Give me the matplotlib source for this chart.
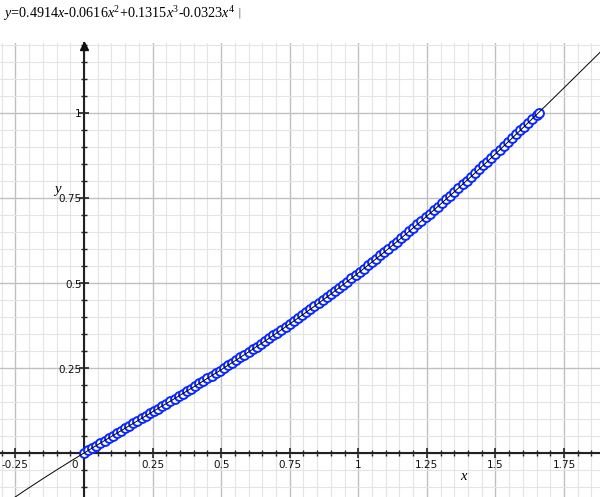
import matplotlib
matplotlib.use("Agg")
import matplotlib.pyplot as plt
import numpy as np
from matplotlib.ticker import MultipleLocator

# ---- data ----
coeffs = [0.4914, -0.0616, 0.1315, -0.0323]  # x, x^2, x^3, x^4 (from the title)
x_pts = [0.000, 0.015, 0.030, 0.045, 0.060, 0.075, 0.090, 0.105, 0.120, 0.135,
         0.150, 0.165, 0.180, 0.195, 0.210, 0.225, 0.240, 0.255, 0.270, 0.285,
         0.300, 0.315, 0.330, 0.345, 0.360, 0.375, 0.390, 0.405, 0.420, 0.435,
         0.450, 0.465, 0.480, 0.495, 0.510, 0.525, 0.540, 0.555, 0.570, 0.585,
         0.600, 0.615, 0.630, 0.645, 0.660, 0.675, 0.690, 0.705, 0.720, 0.735,
         0.750, 0.765, 0.780, 0.795, 0.810, 0.825, 0.840, 0.855, 0.870, 0.885,
         0.900, 0.915, 0.930, 0.945, 0.960, 0.975, 0.990, 1.005, 1.020, 1.035,
         1.050, 1.065, 1.080, 1.095, 1.110, 1.125, 1.140, 1.155, 1.170, 1.185,
         1.200, 1.215, 1.230, 1.245, 1.260, 1.275, 1.290, 1.305, 1.320, 1.335,
         1.350, 1.365, 1.380, 1.395, 1.410, 1.425, 1.440, 1.455, 1.470, 1.485,
         1.500, 1.515, 1.530, 1.545, 1.560, 1.575, 1.590, 1.605, 1.620, 1.635,
         1.650, 1.657]
y_pts = [0.0000, 0.0074, 0.0147, 0.0220, 0.0293, 0.0366, 0.0438, 0.0511, 0.0583, 0.0655,
         0.0728, 0.0800, 0.0872, 0.0944, 0.1016, 0.1089, 0.1161, 0.1233, 0.1306, 0.1379,
         0.1452, 0.1525, 0.1598, 0.1671, 0.1745, 0.1819, 0.1893, 0.1968, 0.2043, 0.2118,
         0.2193, 0.2269, 0.2345, 0.2422, 0.2499, 0.2576, 0.2654, 0.2732, 0.2810, 0.2889,
         0.2969, 0.3049, 0.3129, 0.3210, 0.3292, 0.3374, 0.3456, 0.3539, 0.3623, 0.3707,
         0.3792, 0.3877, 0.3963, 0.4049, 0.4136, 0.4224, 0.4312, 0.4400, 0.4490, 0.4580,
         0.4670, 0.4762, 0.4853, 0.4946, 0.5039, 0.5132, 0.5227, 0.5322, 0.5417, 0.5513,
         0.5610, 0.5708, 0.5806, 0.5904, 0.6004, 0.6104, 0.6204, 0.6305, 0.6407, 0.6509,
         0.6612, 0.6716, 0.6820, 0.6925, 0.7030, 0.7136, 0.7242, 0.7349, 0.7457, 0.7565,
         0.7674, 0.7783, 0.7893, 0.8003, 0.8114, 0.8225, 0.8337, 0.8449, 0.8561, 0.8674,
         0.8788, 0.8902, 0.9016, 0.9131, 0.9246, 0.9362, 0.9477, 0.9594, 0.9710, 0.9827,
         0.9944, 1.0000]
x_ticks = [-0.25, 0, 0.25, 0.5, 0.75, 1, 1.25, 1.5, 1.75]
x_tick_labels = ["-0.25", "0", "0.25", "0.5", "0.75", "1", "1.25", "1.5", "1.75"]
y_ticks = [0.25, 0.5, 0.75, 1]
y_tick_labels = ["0.25", "0.5", "0.75", "1"]
title_text = (r"$y$=0.4914$x$-0.0616$x^{2}$+0.1315$x^{3}$-0.0323$x^{4}$")

plt.rcParams['mathtext.fontset'] = 'custom'
plt.rcParams['mathtext.rm'] = 'Liberation Serif'
plt.rcParams['mathtext.it'] = 'Liberation Serif:italic'

fig = plt.figure(figsize=(6, 4.97), dpi=100)
ax = fig.add_axes([0, 0, 1, 454 / 497])

xlim = (-84 / 274.3, 516 / 274.3)
ylim = (-44 / 340.3, 410 / 340.3)
ax.set_xlim(*xlim)
ax.set_ylim(*ylim)

# grid
ax.xaxis.set_major_locator(MultipleLocator(0.25))
ax.yaxis.set_major_locator(MultipleLocator(0.25))
ax.xaxis.set_minor_locator(MultipleLocator(0.05))
ax.yaxis.set_minor_locator(MultipleLocator(0.05))
ax.grid(which='major', color='#c0c0c0', linewidth=1.0, zorder=0)
ax.grid(which='minor', color='#e4e4e4', linewidth=0.8, zorder=0)
ax.set_axisbelow(True)

# axes through origin
for s in ['top', 'right']:
    ax.spines[s].set_visible(False)
ax.spines['left'].set_position(('data', 0))
ax.spines['bottom'].set_position(('data', 0))
for s in ['left', 'bottom']:
    ax.spines[s].set_color('#222222')
    ax.spines[s].set_linewidth(1.5)
ax.tick_params(which='major', direction='inout', length=7, width=1.2, color='#222222',
               labelbottom=False, labelleft=False)
ax.tick_params(which='minor', direction='inout', length=4, width=1.0, color='#222222')

# arrow at top of y axis
ax.plot([0], [ylim[1] - 0.008], marker='^', color='#111111', markersize=6,
        clip_on=False, zorder=6)

# tick labels
lab_font = dict(fontsize=7.5, family='DejaVu Sans', color='#111111')
for v, t in zip(x_ticks, x_tick_labels):
    xx = v if v != 0 else -0.036
    ax.text(xx, -0.035, t, ha='center', va='center', **lab_font)
for v, t in zip(y_ticks, y_tick_labels):
    ax.text(-0.008, v - 0.005, t, ha='right', va='center', **lab_font)

# axis labels
ax.text(1.382, -0.0705, "x", fontsize=10.5, style='italic', family='Liberation Serif',
        ha='center', va='center')
ax.text(-0.098, 0.773, "y", fontsize=10.5, style='italic', family='Liberation Serif',
        ha='center', va='center')

# fitted curve
xs = np.linspace(xlim[0], xlim[1], 600)
ys = np.polyval(list(reversed(coeffs)) + [0], xs)
ax.plot(xs, ys, color='black', linewidth=0.7, zorder=5)

# data points
ax.plot(x_pts, y_pts, linestyle='none', marker='o', markersize=6.4,
        markerfacecolor='white', markeredgecolor='#0a28ff', markeredgewidth=1.4, zorder=4)

# title
fig.text(3 / 600, 1 - 14 / 497, title_text, fontsize=10.2, family='Liberation Serif',
         ha='left', va='center')
fig.text(239 / 600, 1 - 13 / 497, "|", fontsize=8, color='#777777',
         family='DejaVu Sans', ha='center', va='center')

fig.savefig("out.png", dpi=100)
